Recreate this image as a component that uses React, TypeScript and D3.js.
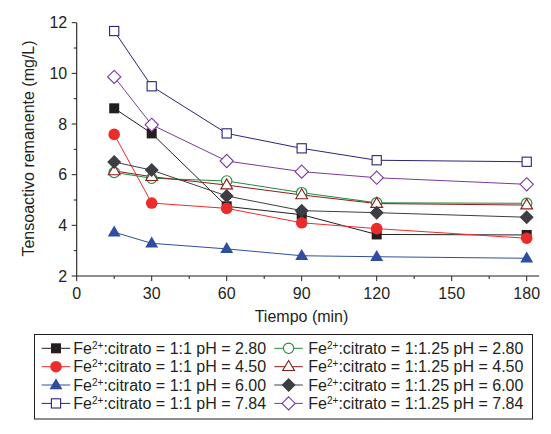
import React from "react";
import * as d3 from "d3";

const times = [15, 30, 60, 90, 120, 180];
const xTicks = [0, 30, 60, 90, 120, 150, 180];
const yTicks = [2, 4, 6, 8, 10, 12];

const s11_280 = [8.62, 7.63, 4.75, 4.42, 3.64, 3.62];
const s11_450 = [7.59, 4.88, 4.67, 4.1, 3.87, 3.49];
const s11_600 = [3.73, 3.29, 3.07, 2.8, 2.76, 2.7];
const s11_784 = [11.67, 9.49, 7.63, 7.04, 6.57, 6.51];
const s125_280 = [6.09, 5.86, 5.75, 5.29, 4.89, 4.87];
const s125_450 = [6.15, 5.92, 5.59, 5.2, 4.86, 4.8];
const s125_600 = [6.5, 6.18, 5.16, 4.58, 4.5, 4.32];
const s125_784 = [9.86, 7.97, 6.54, 6.12, 5.88, 5.62];

const ratios = ["1:1", "1:1", "1:1", "1:1", "1:1.25", "1:1.25", "1:1.25", "1:1.25"];
const pHs = ["2.80", "4.50", "6.00", "7.84", "2.80", "4.50", "6.00", "7.84"];

type Shape = "square" | "circle" | "triangle" | "diamond";
interface Series {
  values: number[];
  color: string;
  shape: Shape;
  filled: boolean;
  ratio: string;
  pH: string;
}

const seriesList: Series[] = [
  { values: s11_280, color: "#231f20", shape: "square", filled: true, ratio: ratios[0], pH: pHs[0] },
  { values: s11_450, color: "#ec2b2b", shape: "circle", filled: true, ratio: ratios[1], pH: pHs[1] },
  { values: s11_600, color: "#2f4e9f", shape: "triangle", filled: true, ratio: ratios[2], pH: pHs[2] },
  { values: s11_784, color: "#2a2577", shape: "square", filled: false, ratio: ratios[3], pH: pHs[3] },
  { values: s125_280, color: "#1f8a3c", shape: "circle", filled: false, ratio: ratios[4], pH: pHs[4] },
  { values: s125_450, color: "#8a1c1c", shape: "triangle", filled: false, ratio: ratios[5], pH: pHs[5] },
  { values: s125_600, color: "#3b3e42", shape: "diamond", filled: true, ratio: ratios[6], pH: pHs[6] },
  { values: s125_784, color: "#7a3b9c", shape: "diamond", filled: false, ratio: ratios[7], pH: pHs[7] },
];

const W = 551;
const H = 434;
const FONT = "'Liberation Sans', Arial, sans-serif";
const FS = 16;

const x = d3.scaleLinear().domain([0, 185]).range([76.7, 539.2]);
const y = d3.scaleLinear().domain([2, 12]).range([276, 22.7]);

function Marker({ cx, cy, s }: { cx: number; cy: number; s: Series }) {
  const fill = s.filled ? s.color : "#ffffff";
  const sw = s.filled ? 0 : 1.1;
  if (s.shape === "square") {
    const h = s.filled ? 5 : 4.6;
    return <rect x={cx - h} y={cy - h} width={2 * h} height={2 * h} fill={fill} stroke={s.color} strokeWidth={sw} />;
  }
  if (s.shape === "circle") {
    return <circle cx={cx} cy={cy} r={s.filled ? 5.8 : 5.2} fill={fill} stroke={s.color} strokeWidth={sw} />;
  }
  if (s.shape === "triangle") {
    const r = s.filled ? 6.8 : 6.2;
    const pts = [
      [cx, cy - r],
      [cx + r * 0.95, cy + r * 0.62],
      [cx - r * 0.95, cy + r * 0.62],
    ];
    return <polygon points={pts.map((p) => p.join(",")).join(" ")} fill={fill} stroke={s.color} strokeWidth={sw} />;
  }
  const r = s.filled ? 7 : 6.6;
  const pts = [
    [cx, cy - r],
    [cx + r, cy],
    [cx, cy + r],
    [cx - r, cy],
  ];
  return <polygon points={pts.map((p) => p.join(",")).join(" ")} fill={fill} stroke={s.color} strokeWidth={sw} />;
}

export default function App() {
  const line = d3
    .line<number>()
    .x((_, i) => x(times[i]))
    .y((v) => y(v));

  const xMinor = d3.range(15, 185, 30);
  const yMinor = d3.range(3, 12, 2);

  const legX = [41.7, 274.3];
  const legTextX = [73.3, 308.3];
  const legY = [348.3, 366.7, 385, 403.4];

  return (
    <svg
      width={W}
      height={H}
      style={{ position: "absolute", left: 0, top: 0, background: "#fff" }}
      fontFamily={FONT}
    >
      <rect width={W} height={H} fill="#fff" />
      {/* axes */}
      <line x1={x(0)} x2={x(185)} y1={y(2)} y2={y(2)} stroke="#231f20" strokeWidth={1.1} />
      <line x1={x(0)} x2={x(0)} y1={y(2)} y2={y(12)} stroke="#231f20" strokeWidth={1.1} />
      {xTicks.map((t) => (
        <g key={"xt" + t}>
          <line x1={x(t)} x2={x(t)} y1={y(2)} y2={y(2) + 5} stroke="#231f20" strokeWidth={1} />
          <text x={x(t)} y={298.8} textAnchor="middle" fontSize={FS} fill="#231f20">
            {t}
          </text>
        </g>
      ))}
      {xMinor.map((t) => (
        <line key={"xm" + t} x1={x(t)} x2={x(t)} y1={y(2)} y2={y(2) + 3} stroke="#231f20" strokeWidth={1} />
      ))}
      {yTicks.map((t) => (
        <g key={"yt" + t}>
          <line x1={x(0) - 5} x2={x(0)} y1={y(t)} y2={y(t)} stroke="#231f20" strokeWidth={1} />
          <text x={x(0) - 9.5} y={y(t)} dy="0.36em" textAnchor="end" fontSize={FS} fill="#231f20">
            {t}
          </text>
        </g>
      ))}
      {yMinor.map((t) => (
        <line key={"ym" + t} x1={x(0) - 3} x2={x(0)} y1={y(t)} y2={y(t)} stroke="#231f20" strokeWidth={1} />
      ))}
      <text x={301.5} y={321.5} textAnchor="middle" fontSize={FS} fill="#231f20">
        Tiempo (min)
      </text>
      <text transform={`translate(33.5,148.5) rotate(-90)`} textAnchor="middle" fontSize={FS} fill="#231f20">
        Tensoactivo remanente (mg/L)
      </text>

      {/* series lines */}
      {seriesList.map((s, i) => (
        <path key={"l" + i} d={line(s.values) || ""} fill="none" stroke={s.color} strokeWidth={1} />
      ))}
      {/* markers */}
      {seriesList.map((s, i) => (
        <g key={"m" + i}>
          {s.values.map((v, j) => (
            <Marker key={j} cx={x(times[j])} cy={y(v)} s={s} />
          ))}
        </g>
      ))}

      {/* legend */}
      <rect x={34.5} y={334.5} width={498} height={84.5} fill="#fff" stroke="#231f20" strokeWidth={1} />
      {seriesList.map((s, i) => {
        const col = Math.floor(i / 4);
        const row = i % 4;
        const lx = legX[col];
        const ly = legY[row];
        return (
          <g key={"lg" + i}>
            <line x1={lx} x2={lx + 28.5} y1={ly} y2={ly} stroke={s.color} strokeWidth={1} />
            <Marker cx={lx + 14.3} cy={ly} s={s} />
            <text x={legTextX[col]} y={ly} dy="0.36em" fontSize={FS} fill="#231f20">
              Fe
              <tspan fontSize={10} dy="-0.5em">
                2+
              </tspan>
              <tspan dy="0.31em">{`:citrato = ${s.ratio} pH = ${s.pH}`}</tspan>
            </text>
          </g>
        );
      })}
    </svg>
  );
}
